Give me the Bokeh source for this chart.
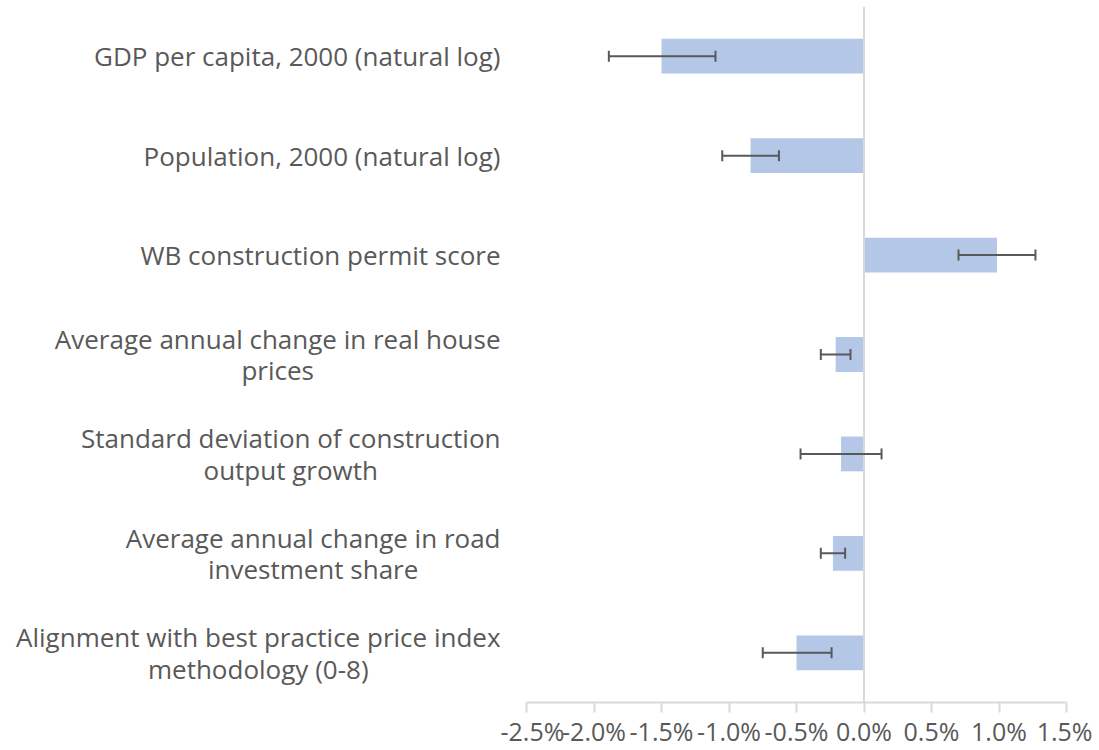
from bokeh.plotting import figure
from bokeh.layouts import row
from bokeh.core.properties import value
from bokeh.models import (ColumnDataSource, FactorRange, FixedTicker, PrintfTickFormatter,
                          Span, Whisker, TeeHead)
from bokeh.embed import file_html
from bokeh.resources import INLINE

categories = [
    "GDP per capita, 2000 (natural log)",
    "Population, 2000 (natural log)",
    "WB construction permit score",
    "Average annual change in real house\nprices",
    "Standard deviation of construction\noutput growth",
    "Average annual change in road\ninvestment share",
    "Alignment with best practice price index\nmethodology (0-8)",
]
values = [-1.50, -0.84, 0.985, -0.21, -0.17, -0.23, -0.50]
err_low = [-1.89, -1.05, 0.70, -0.32, -0.47, -0.32, -0.75]
err_high = [-1.10, -0.63, 1.27, -0.10, 0.13, -0.14, -0.24]
x_ticks = [-2.5, -2.0, -1.5, -1.0, -0.5, 0.0, 0.5, 1.0, 1.5]

FONT = "Open Sans"
GREY = "#595959"
AXIS_GREY = "#D9D9D9"
H = 750

src = ColumnDataSource(dict(cat=categories, val=values, lo=err_low, hi=err_high,
                            lab_x=[1.0] * len(categories)))
yr = FactorRange(factors=list(reversed(categories)), range_padding=0)


def style_xaxis(ax, visible=True):
    ax.formatter = PrintfTickFormatter(format="%.1f%%")
    ax.axis_line_color = AXIS_GREY if visible else None
    ax.axis_line_width = 2
    ax.major_tick_line_color = AXIS_GREY if visible else None
    ax.major_tick_line_width = 2
    ax.major_tick_out = 10
    ax.major_tick_in = 0
    ax.minor_tick_line_color = None
    ax.major_label_text_font = FONT
    ax.major_label_text_font_size = "25px"
    ax.major_label_text_color = GREY
    ax.major_label_text_alpha = 1.0 if visible else 0.0
    ax.major_label_standoff = 1


# ---- left panel: category labels ----
lp = figure(width=500, height=H, output_backend="svg", toolbar_location=None,
            y_range=yr, x_range=(0, 1),
            min_border_left=0, min_border_right=0, min_border_top=6, min_border_bottom=45)
lp.text(x="lab_x", y="cat", text="cat", source=src, anchor="center_right",
        text_align="center", text_baseline="middle",
        text_font=value(FONT), text_font_size=value("26px"), text_color=GREY,
        text_line_height=0.88)
lp.xgrid.visible = False
lp.ygrid.visible = False
lp.outline_line_color = None
lp.yaxis.visible = False
style_xaxis(lp.xaxis[0], visible=False)
lp.xaxis[0].ticker = FixedTicker(ticks=[0.5])

# ---- right panel: bars ----
p = figure(width=592, height=H, output_backend="svg", toolbar_location=None,
           y_range=yr, x_range=(x_ticks[0], x_ticks[-1]),
           min_border_left=26, min_border_right=26, min_border_top=6, min_border_bottom=45)

p.hbar(y="cat", right="val", left=0, height=0.35, source=src,
       color="#B4C7E7", line_color=None)

p.add_layout(Span(location=0, dimension="height", line_color=AXIS_GREY, line_width=2))

w = Whisker(base="cat", lower="lo", upper="hi", dimension="width", source=src,
            line_color=GREY, line_width=2, level="overlay",
            lower_head=TeeHead(size=11, line_color=GREY, line_width=2),
            upper_head=TeeHead(size=11, line_color=GREY, line_width=2))
p.add_layout(w)

p.xgrid.visible = False
p.ygrid.visible = False
p.outline_line_color = None
p.yaxis.visible = False
style_xaxis(p.xaxis[0])
p.xaxis[0].ticker = FixedTicker(ticks=x_ticks)

layout = row(lp, p, spacing=0)
open("out.html", "w").write(file_html(layout, INLINE))
